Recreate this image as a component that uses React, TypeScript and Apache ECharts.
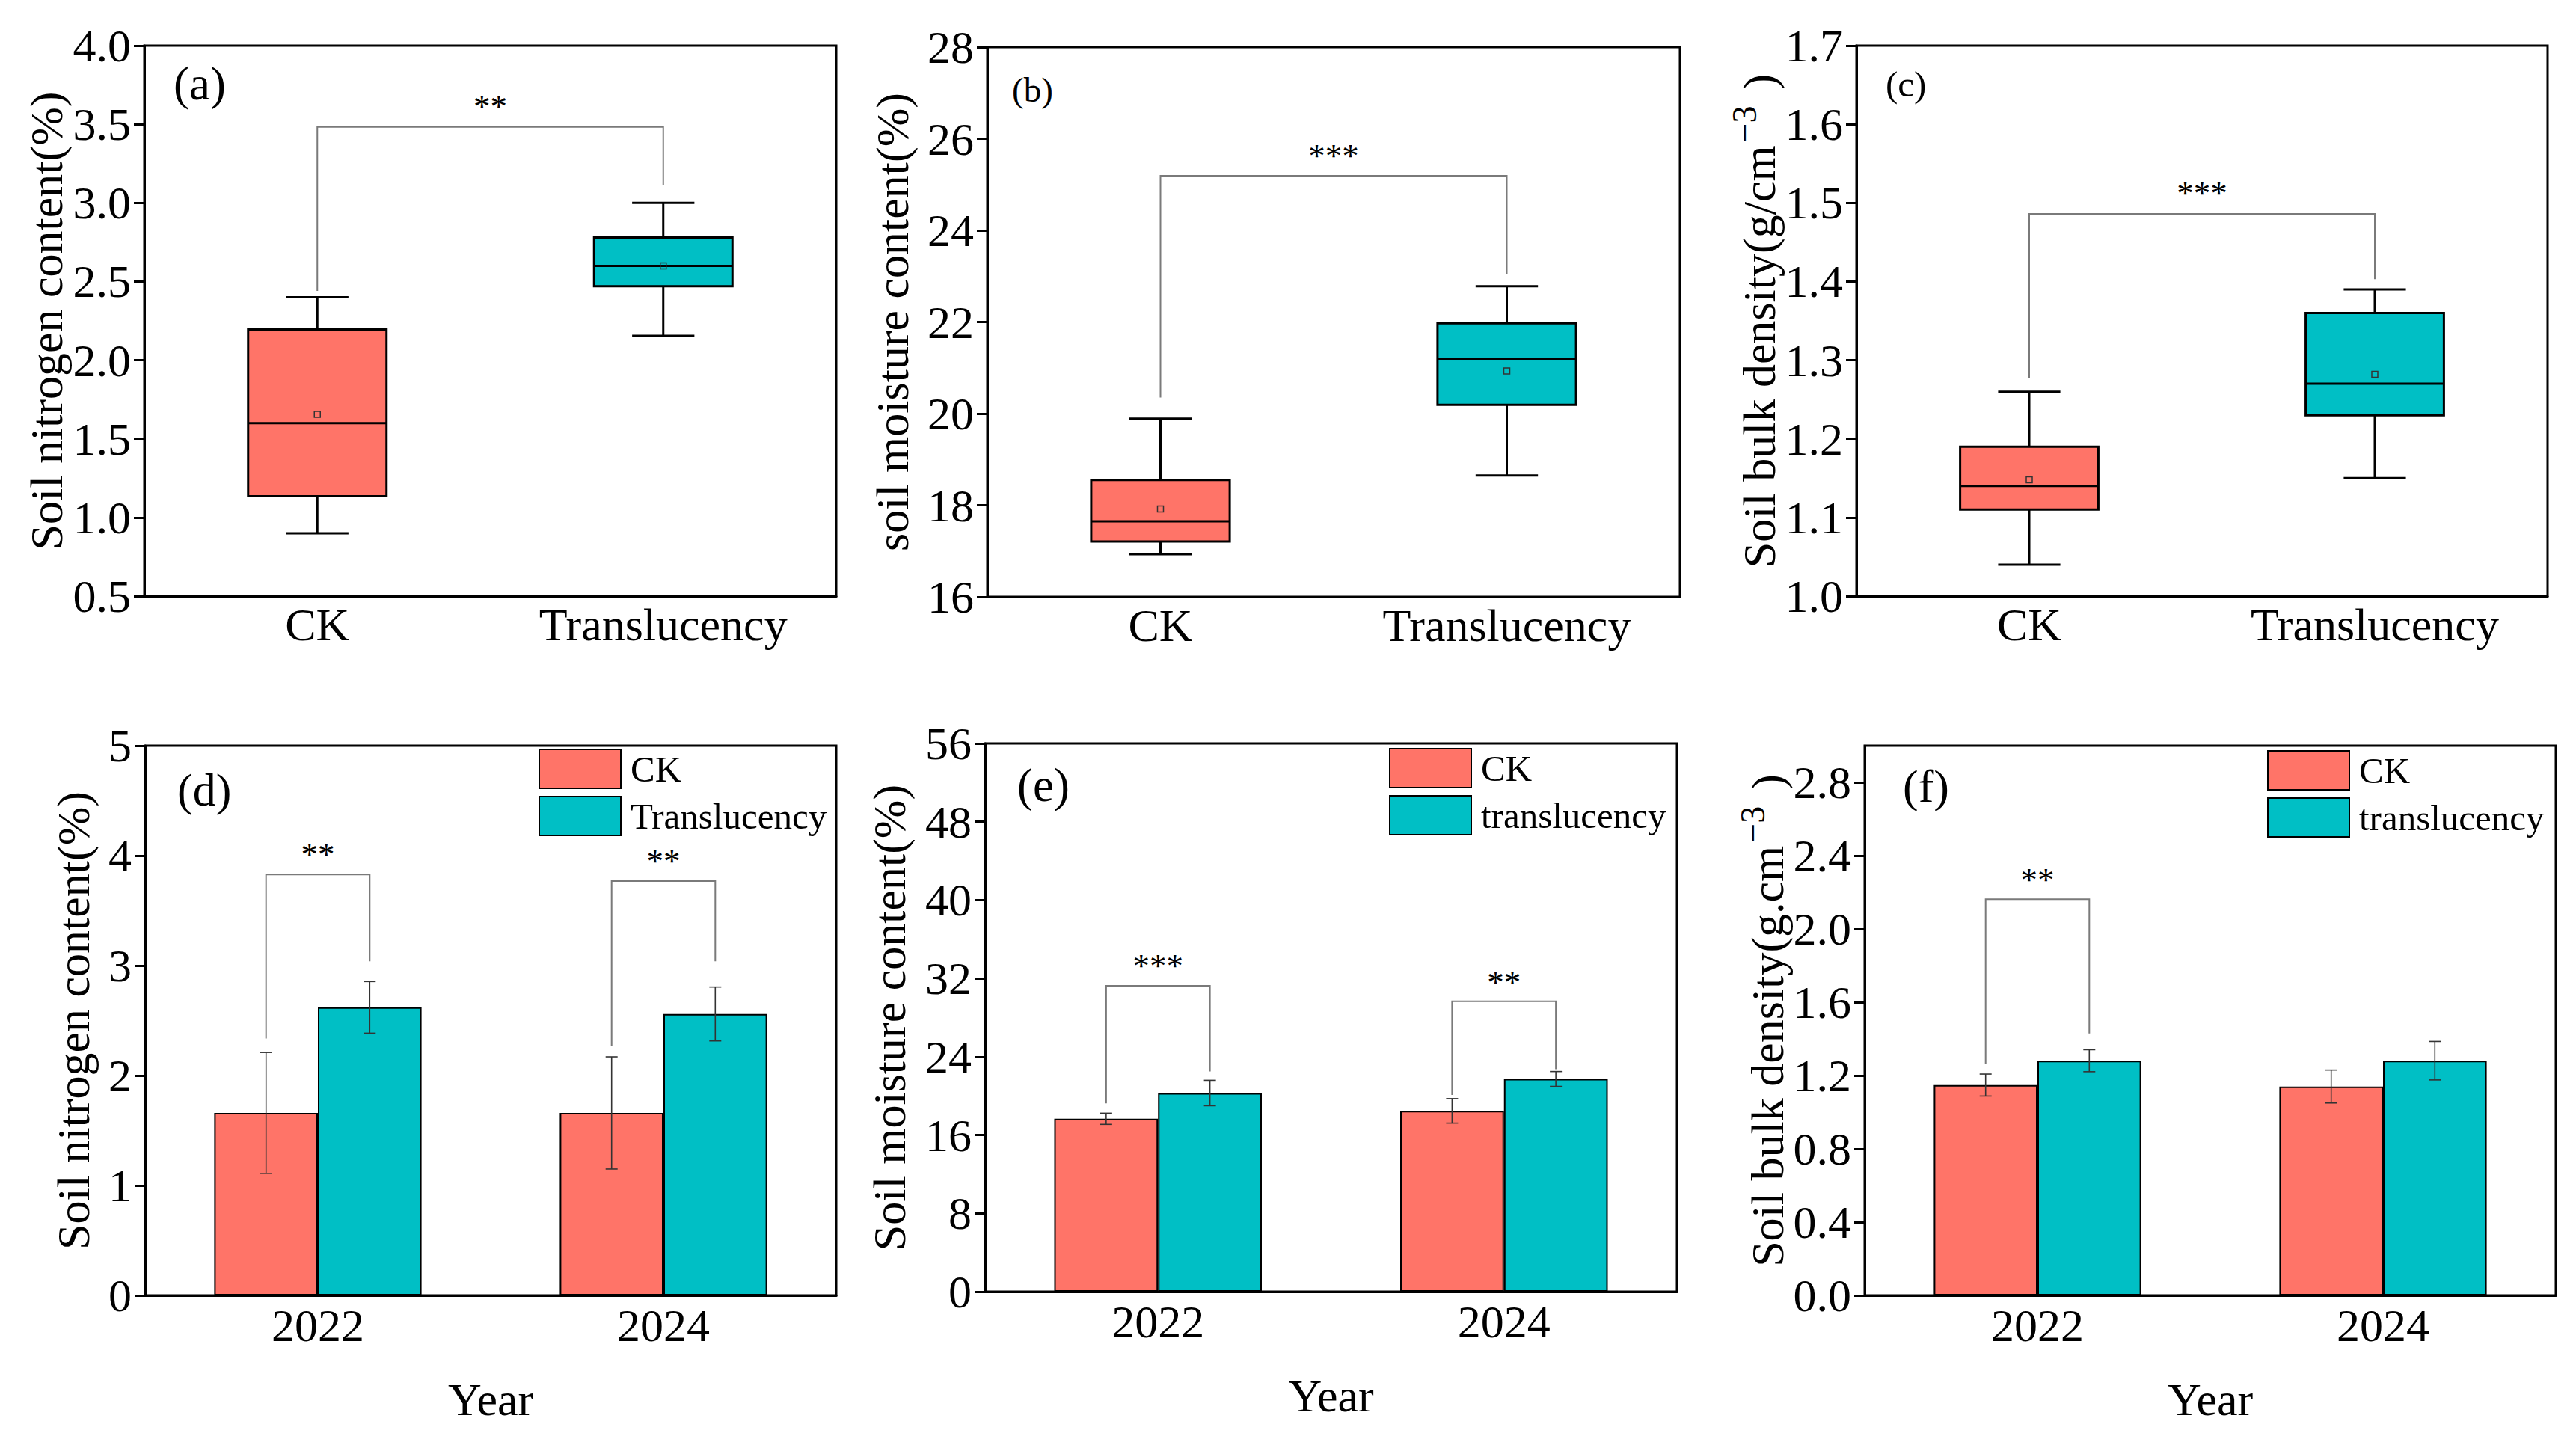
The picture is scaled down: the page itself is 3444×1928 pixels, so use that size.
import React, { useEffect, useRef } from 'react';
import * as echarts from 'echarts';

const FONT = 'Liberation Serif';
const RED = '#FF7468';
const TEAL = '#00BFC5';

const boxCategories = ['CK', 'Translucency'];
const yearCategories = ['2022', '2024'];

// [min, Q1, median, Q3, max, mean]
const nitrogenBox = [
  [0.9, 1.135, 1.6, 2.195, 2.4, 1.655],
  [2.155, 2.47, 2.6, 2.78, 3.0, 2.6],
];
const moistureBox = [
  [16.93, 17.21, 17.65, 18.55, 19.89, 17.92],
  [18.65, 20.19, 21.19, 21.97, 22.78, 20.93],
];
const densityBox = [
  [1.04, 1.11, 1.14, 1.19, 1.26, 1.148],
  [1.15, 1.23, 1.27, 1.36, 1.39, 1.282],
];

// [catLeft, catRight, bracketTop, leftEnd, rightEnd, starsY]
const nitrogenBoxBracket = [[0, 1, 3.483, 2.44, 3.115, 3.65]];
const moistureBoxBracket = [[0, 1, 25.19, 20.35, 23.04, 25.74]];
const densityBoxBracket = [[0, 1, 1.486, 1.277, 1.403, 1.519]];
const nitrogenBoxStars = ['**'];
const moistureBoxStars = ['***'];
const densityBoxStars = ['***'];

// bar means and errors by year
const nitrogenCK = [1.66, 1.66];
const nitrogenCKErr = [0.55, 0.51];
const nitrogenTr = [2.62, 2.56];
const nitrogenTrErr = [0.235, 0.245];
const moistureCK = [17.66, 18.47];
const moistureCKErr = [0.57, 1.25];
const moistureTr = [20.29, 21.73];
const moistureTrErr = [1.3, 0.76];
const densityCK = [1.148, 1.14];
const densityCKErr = [0.06, 0.09];
const densityTr = [1.281, 1.281];
const densityTrErr = [0.06, 0.105];

const nitrogenBarBrackets = [[0, 0, 3.828, 2.336, 3.039, 4.06], [1, 1, 3.768, 2.268, 3.039, 4.0]];
const nitrogenBarStars = ['**', '**'];
const moistureBarBrackets = [[0, 0, 31.25, 19.24, 22.49, 33.84], [1, 1, 29.67, 20.1, 22.73, 32.16]];
const moistureBarStars = ['***', '**'];
const densityBarBrackets = [[0, 0, 2.162, 1.263, 1.43, 2.3]];
const densityBarStars = ['**'];

const boxColors = [RED, TEAL];

function boxRender(params: any, api: any) {
  const cat = api.value(0);
  const band = api.size([1, 0])[0];
  const bw = band * 0.4;
  const cap = band * 0.18;
  const y = (v: number) => api.coord([cat, v])[1];
  const x = api.coord([cat, api.value(3)])[0];
  const yMin = y(api.value(1));
  const yQ1 = y(api.value(2));
  const yMed = y(api.value(3));
  const yQ3 = y(api.value(4));
  const yMax = y(api.value(5));
  const yMean = y(api.value(6));
  const ls = { stroke: '#000', lineWidth: 3 };
  return {
    type: 'group',
    children: [
      { type: 'line', shape: { x1: x, y1: yQ3, x2: x, y2: yMax }, style: ls },
      { type: 'line', shape: { x1: x, y1: yQ1, x2: x, y2: yMin }, style: ls },
      { type: 'line', shape: { x1: x - cap / 2, y1: yMax, x2: x + cap / 2, y2: yMax }, style: ls },
      { type: 'line', shape: { x1: x - cap / 2, y1: yMin, x2: x + cap / 2, y2: yMin }, style: ls },
      {
        type: 'rect',
        shape: { x: x - bw / 2, y: yQ3, width: bw, height: yQ1 - yQ3 },
        style: { fill: boxColors[params.dataIndex], stroke: '#000', lineWidth: 3 },
      },
      { type: 'line', shape: { x1: x - bw / 2, y1: yMed, x2: x + bw / 2, y2: yMed }, style: ls },
      {
        type: 'rect',
        shape: { x: x - 4, y: yMean - 4, width: 8, height: 8 },
        style: { fill: 'none', stroke: '#333', lineWidth: 1.5 },
      },
    ],
  };
}

function bracketRender(labels: string[], off: number) {
  return (params: any, api: any) => {
    const band = api.size([1, 0])[0];
    const c0 = api.value(0);
    const c1 = api.value(1);
    const xl = api.coord([c0, api.value(2)])[0] - off * band;
    const xr = api.coord([c1, api.value(2)])[0] + off * band;
    const yTop = api.coord([c0, api.value(2)])[1];
    const yl = api.coord([c0, api.value(3)])[1];
    const yr = api.coord([c1, api.value(4)])[1];
    const ys = api.coord([c0, api.value(5)])[1];
    return {
      type: 'group',
      children: [
        {
          type: 'polyline',
          shape: { points: [[xl, yl], [xl, yTop], [xr, yTop], [xr, yr]] },
          style: { fill: 'none', stroke: '#7a7a7a', lineWidth: 2 },
        },
        {
          type: 'text',
          x: (xl + xr) / 2,
          y: ys + 7,
          style: {
            text: labels[params.dataIndex],
            fontSize: 45,
            fontFamily: FONT,
            fill: '#000',
            align: 'center',
            verticalAlign: 'middle',
          },
        },
      ],
    };
  };
}

function errRender(off: number) {
  return (params: any, api: any) => {
    const band = api.size([1, 0])[0];
    const cat = api.value(0);
    const v = api.value(1);
    const e = api.value(2);
    const x = api.coord([cat, v])[0] + off * band;
    const yHi = api.coord([cat, v + e])[1];
    const yLo = api.coord([cat, v - e])[1];
    const st = { stroke: '#333', lineWidth: 1.6 };
    const cw = 8;
    return {
      type: 'group',
      children: [
        { type: 'line', shape: { x1: x, y1: yHi, x2: x, y2: yLo }, style: st },
        { type: 'line', shape: { x1: x - cw, y1: yHi, x2: x + cw, y2: yHi }, style: st },
        { type: 'line', shape: { x1: x - cw, y1: yLo, x2: x + cw, y2: yLo }, style: st },
      ],
    };
  };
}

const supRich = {
  a: { fontFamily: FONT, fontSize: 62, lineHeight: 62, verticalAlign: 'bottom', color: '#000' },
  s: { fontFamily: FONT, fontSize: 46, lineHeight: 46, padding: [0, 0, 27, 4], verticalAlign: 'bottom', color: '#000' },
  p: { fontFamily: FONT, fontSize: 62, lineHeight: 62, padding: [0, 0, 0, 22], verticalAlign: 'bottom', color: '#000' },
};

function yAxis(gridIndex: number, min: number, max: number, interval: number, name: string, nameGap: number, dec: number, hideMax = false) {
  return {
    type: 'value',
    gridIndex,
    min,
    max,
    interval,
    name,
    nameLocation: 'middle',
    nameGap,
    nameTextStyle: { fontFamily: FONT, fontSize: 62, color: '#000', rich: supRich },
    axisLine: { show: true, lineStyle: { color: '#000', width: 3 } },
    axisTick: { show: true, inside: false, length: 14, lineStyle: { color: '#000', width: 3 } },
    axisLabel: {
      fontFamily: FONT,
      fontSize: 62,
      color: '#000',
      margin: 18,
      showMaxLabel: !hideMax,
      formatter: (v: number) => v.toFixed(dec),
    },
    splitLine: { show: false },
  };
}

function xAxis(gridIndex: number, data: string[], name: string, margin: number) {
  return {
    type: 'category',
    gridIndex,
    data,
    name,
    nameLocation: 'middle',
    nameGap: 108,
    nameTextStyle: { fontFamily: FONT, fontSize: 62, color: '#000' },
    axisLine: { show: true, lineStyle: { color: '#000', width: 3 } },
    axisTick: { show: false },
    axisLabel: { fontFamily: FONT, fontSize: 62, color: '#000', margin },
    splitLine: { show: false },
  };
}

function barSeries(name: string, idx: number, data: number[], color: string) {
  return {
    type: 'bar',
    name,
    xAxisIndex: idx,
    yAxisIndex: idx,
    data,
    barGap: '0%',
    barCategoryGap: '40%',
    itemStyle: { color, borderColor: '#000', borderWidth: 2 },
  };
}

function errSeries(idx: number, vals: number[], errs: number[], off: number) {
  return {
    type: 'custom',
    xAxisIndex: idx,
    yAxisIndex: idx,
    renderItem: errRender(off),
    data: vals.map((v, i) => [i, v, errs[i]]),
    z: 5,
  };
}

function boxSeries(idx: number, data: number[][]) {
  return {
    type: 'custom',
    xAxisIndex: idx,
    yAxisIndex: idx,
    renderItem: boxRender,
    data: data.map((d, i) => [i, ...d]),
  };
}

function bracketSeries(idx: number, data: number[][], labels: string[], off: number) {
  return {
    type: 'custom',
    xAxisIndex: idx,
    yAxisIndex: idx,
    renderItem: bracketRender(labels, off),
    data,
    z: 6,
  };
}

function legend(left: number, top: number, names: string[]) {
  return {
    orient: 'vertical',
    left,
    top,
    padding: 0,
    itemWidth: 109,
    itemHeight: 52,
    itemGap: 9,
    icon: 'rect',
    selectedMode: false,
    textStyle: { fontFamily: FONT, fontSize: 49, color: '#000', padding: [0, 0, 0, 8] },
    data: names,
  };
}

function panelLabel(text: string, x: number, y: number, size: number) {
  return {
    type: 'text',
    left: x,
    top: y,
    style: { text, fontFamily: FONT, fontSize: size, fill: '#000' },
  };
}

export default function App() {
  const ref = useRef<HTMLDivElement>(null);
  useEffect(() => {
    document.body.style.margin = '0';
    document.body.style.overflow = 'hidden';
    const chart = echarts.init(ref.current!, undefined, { renderer: 'svg' });
    const gridBase = { show: true, borderColor: '#000', borderWidth: 3, backgroundColor: 'transparent', containLabel: false };
    chart.setOption({
      animation: false,
      backgroundColor: '#fff',
      grid: [
        { ...gridBase, left: 193, top: 61, width: 925, height: 736 },
        { ...gridBase, left: 1320, top: 63, width: 926, height: 735 },
        { ...gridBase, left: 2482, top: 61, width: 924, height: 736 },
        { ...gridBase, left: 194, top: 997, width: 924, height: 735 },
        { ...gridBase, left: 1317, top: 994, width: 925, height: 733 },
        { ...gridBase, left: 2493, top: 997, width: 924, height: 735 },
      ],
      xAxis: [
        xAxis(0, boxCategories, '', 7),
        xAxis(1, boxCategories, '', 7),
        xAxis(2, boxCategories, '', 7),
        xAxis(3, yearCategories, 'Year', 9),
        xAxis(4, yearCategories, 'Year', 9),
        xAxis(5, yearCategories, 'Year', 9),
      ],
      yAxis: [
        yAxis(0, 0.5, 4.0, 0.5, 'Soil nitrogen content(%)', 100, 1),
        yAxis(1, 16, 28, 2, 'soil moisture content(%)', 96, 0),
        yAxis(2, 1.0, 1.7, 0.1, '{a|Soil bulk density(g/cm}{s|−3}{p|)}', 98, 1),
        yAxis(3, 0, 5, 1, 'Soil nitrogen content(%)', 65, 0),
        yAxis(4, 0, 56, 8, 'Soil moisture content(%)', 97, 0),
        yAxis(5, 0, 3.0, 0.4, '{a|Soil bulk density(g.cm}{s|−3}{p|)}', 98, 1, true),
      ],
      legend: [
        legend(720, 1001, ['CK', 'Translucency']),
        legend(1857, 1000, ['CK', 'translucency']),
        legend(3031, 1003, ['CK', 'translucency']),
      ],
      graphic: [
        panelLabel('(a)', 232, 80, 63),
        panelLabel('(b)', 1353, 96, 47),
        panelLabel('(c)', 2521, 88, 49),
        panelLabel('(d)', 237, 1025, 62),
        panelLabel('(e)', 1360, 1018, 63),
        panelLabel('(f)', 2544, 1020, 62),
      ],
      series: [
        boxSeries(0, nitrogenBox),
        bracketSeries(0, nitrogenBoxBracket, nitrogenBoxStars, 0),
        boxSeries(1, moistureBox),
        bracketSeries(1, moistureBoxBracket, moistureBoxStars, 0),
        boxSeries(2, densityBox),
        bracketSeries(2, densityBoxBracket, densityBoxStars, 0),

        barSeries('CK', 3, nitrogenCK, RED),
        barSeries('Translucency', 3, nitrogenTr, TEAL),
        errSeries(3, nitrogenCK, nitrogenCKErr, -0.15),
        errSeries(3, nitrogenTr, nitrogenTrErr, 0.15),
        bracketSeries(3, nitrogenBarBrackets, nitrogenBarStars, 0.15),

        barSeries('CK', 4, moistureCK, RED),
        barSeries('translucency', 4, moistureTr, TEAL),
        errSeries(4, moistureCK, moistureCKErr, -0.15),
        errSeries(4, moistureTr, moistureTrErr, 0.15),
        bracketSeries(4, moistureBarBrackets, moistureBarStars, 0.15),

        barSeries('CK', 5, densityCK, RED),
        barSeries('translucency', 5, densityTr, TEAL),
        errSeries(5, densityCK, densityCKErr, -0.15),
        errSeries(5, densityTr, densityTrErr, 0.15),
        bracketSeries(5, densityBarBrackets, densityBarStars, 0.15),
      ],
    });
    return () => chart.dispose();
  }, []);
  return <div ref={ref} style={{ width: 3444, height: 1928 }} />;
}
